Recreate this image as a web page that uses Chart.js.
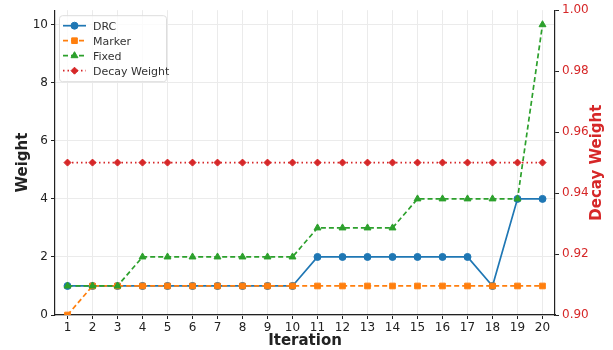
<!DOCTYPE html>
<html>
<head>
<meta charset="utf-8">
<script src="https://cdn.jsdelivr.net/npm/chart.js@4.4.0/dist/chart.umd.min.js"></script>
<style>
  html, body { margin: 0; padding: 0; background: #fff; }
  #wrap { width: 613px; height: 350px; }
</style>
</head>
<body>
<div id="wrap"><canvas id="chart" width="613" height="350"></canvas></div>
<script>
// data
const iterations = [1, 2, 3, 4, 5, 6, 7, 8, 9, 10, 11, 12, 13, 14, 15, 16, 17, 18, 19, 20];
const drcWeights = [1, 1, 1, 1, 1, 1, 1, 1, 1, 1, 2, 2, 2, 2, 2, 2, 2, 1, 4, 4];
const markerWeights = [0, 1, 1, 1, 1, 1, 1, 1, 1, 1, 1, 1, 1, 1, 1, 1, 1, 1, 1, 1];
const fixedWeights = [1, 1, 1, 2, 2, 2, 2, 2, 2, 2, 3, 3, 3, 3, 4, 4, 4, 4, 4, 10];
const decayWeights = [0.95, 0.95, 0.95, 0.95, 0.95, 0.95, 0.95, 0.95, 0.95, 0.95, 0.95, 0.95, 0.95, 0.95, 0.95, 0.95, 0.95, 0.95, 0.95, 0.95];
const weightTicks = [0, 2, 4, 6, 8, 10];
const decayTicks = [0.90, 0.92, 0.94, 0.96, 0.98, 1.00];

const FONT = 'DejaVu Sans';
const RED = '#d62728';

function toPoints(values) {
    return iterations.map((x, i) => ({ x: x, y: values[i] }));
}

// legend drawn inside the plot, top-left, like the original
const insideLegend = {
    id: 'insideLegend',
    afterDatasetsDraw(chart) {
        const ctx = chart.ctx;
        const area = chart.chartArea;
        const sets = chart.data.datasets;
        const x0 = area.left + 4, y0 = area.top + 5;
        const rowH = 15, w = 107, h = sets.length * rowH + 6;
        ctx.save();
        ctx.fillStyle = 'rgba(255,255,255,0.8)';
        ctx.strokeStyle = '#dddddd';
        ctx.lineWidth = 1;
        ctx.beginPath();
        ctx.roundRect(x0 + 0.5, y0 + 0.5, w, h, 3);
        ctx.fill();
        ctx.stroke();
        ctx.font = '11px ' + FONT;
        ctx.textBaseline = 'middle';
        sets.forEach((ds, i) => {
            const cy = y0 + 3 + rowH * i + rowH / 2;
            const lx = x0 + 4;
            ctx.strokeStyle = ds.borderColor;
            ctx.lineWidth = ds.borderWidth;
            ctx.setLineDash(ds.borderDash || []);
            ctx.beginPath();
            ctx.moveTo(lx, cy);
            ctx.lineTo(lx + 23, cy);
            ctx.stroke();
            ctx.setLineDash([]);
            ctx.fillStyle = ds.borderColor;
            ctx.lineWidth = 1;
            Chart.helpers.drawPoint(ctx, {
                pointStyle: ds.pointStyle,
                radius: ds.pointRadius,
                borderWidth: 1,
                rotation: 0
            }, lx + 11.5, cy);
            ctx.fillStyle = '#333333';
            ctx.fillText(ds.label, lx + 30, cy + 1);
        });
        ctx.restore();
    }
};

// right axis title, reading bottom to top like the left one
const rightTitle = {
    id: 'rightTitle',
    afterDraw(chart) {
        const ctx = chart.ctx;
        const area = chart.chartArea;
        ctx.save();
        ctx.translate(597, (area.top + area.bottom) / 2);
        ctx.rotate(-Math.PI / 2);
        ctx.font = 'bold 15px ' + FONT;
        ctx.fillStyle = RED;
        ctx.textAlign = 'center';
        ctx.textBaseline = 'middle';
        ctx.fillText('Decay Weight', 0, 0);
        ctx.restore();
    }
};

function makeSet(label, values, color, style, radius, dash, axis, order) {
    return {
        label: label,
        data: toPoints(values),
        yAxisID: axis,
        borderColor: color,
        backgroundColor: color,
        pointBackgroundColor: color,
        pointBorderColor: color,
        borderWidth: 1.7,
        borderDash: dash,
        pointStyle: style,
        pointRadius: radius,
        pointBorderWidth: 1,
        tension: 0,
        order: order
    };
}

const ctx = document.getElementById('chart').getContext('2d');
new Chart(ctx, {
    type: 'line',
    data: {
        datasets: [
            makeSet('DRC', drcWeights, '#1f77b4', 'circle', 3.5, [], 'y', 4),
            makeSet('Marker', markerWeights, '#ff7f0e', 'rect', 4, [5, 3], 'y', 3),
            makeSet('Fixed', fixedWeights, '#2ca02c', 'triangle', 4, [5, 3], 'y', 2),
            makeSet('Decay Weight', decayWeights, RED, 'rectRot', 3.5, [1.5, 3], 'y2', 1)
        ]
    },
    options: {
        responsive: false,
        animation: false,
        layout: { padding: { top: 8, left: 0, right: 0, bottom: 0 } },
        plugins: {
            legend: { display: false },
            tooltip: { enabled: false }
        },
        scales: {
            x: {
                type: 'linear',
                min: 0.5,
                max: 20.5,
                afterBuildTicks: axis => { axis.ticks = iterations.map(v => ({ value: v })); },
                afterFit: axis => { axis.height = 35; },
                ticks: { font: { family: FONT, size: 12 }, color: '#222', padding: 2, maxRotation: 0, autoSkip: false },
                grid: { color: '#ebebeb', tickColor: '#222', tickLength: 4, drawOnChartArea: true },
                border: { color: '#222', width: 1.2 },
                title: { display: true, text: 'Iteration', font: { family: FONT, size: 15, weight: 'bold' }, color: '#222', padding: { top: 0, bottom: 0 } }
            },
            y: {
                position: 'left',
                min: 0,
                max: 10.5,
                afterBuildTicks: axis => { axis.ticks = weightTicks.map(v => ({ value: v })); },
                afterFit: axis => { axis.width = 55; },
                ticks: { font: { family: FONT, size: 12 }, color: '#222', padding: 3 },
                grid: { color: '#ebebeb', tickColor: '#222', tickLength: 4 },
                border: { color: '#222', width: 1.2 },
                title: { display: true, text: 'Weight', font: { family: FONT, size: 15, weight: 'bold' }, color: '#222', padding: { top: 14, bottom: 4 } }
            },
            y2: {
                position: 'right',
                min: 0.9,
                max: 1.0,
                afterBuildTicks: axis => { axis.ticks = decayTicks.map(v => ({ value: v })); },
                afterFit: axis => { axis.width = 58; },
                ticks: { font: { family: FONT, size: 12 }, color: RED, padding: 3, callback: v => v.toFixed(2) },
                grid: { drawOnChartArea: false, tickColor: '#222', tickLength: 4 },
                border: { color: '#222', width: 1.2 },
                title: { display: false }
            }
        }
    },
    plugins: [insideLegend, rightTitle]
});
</script>
</body>
</html>
